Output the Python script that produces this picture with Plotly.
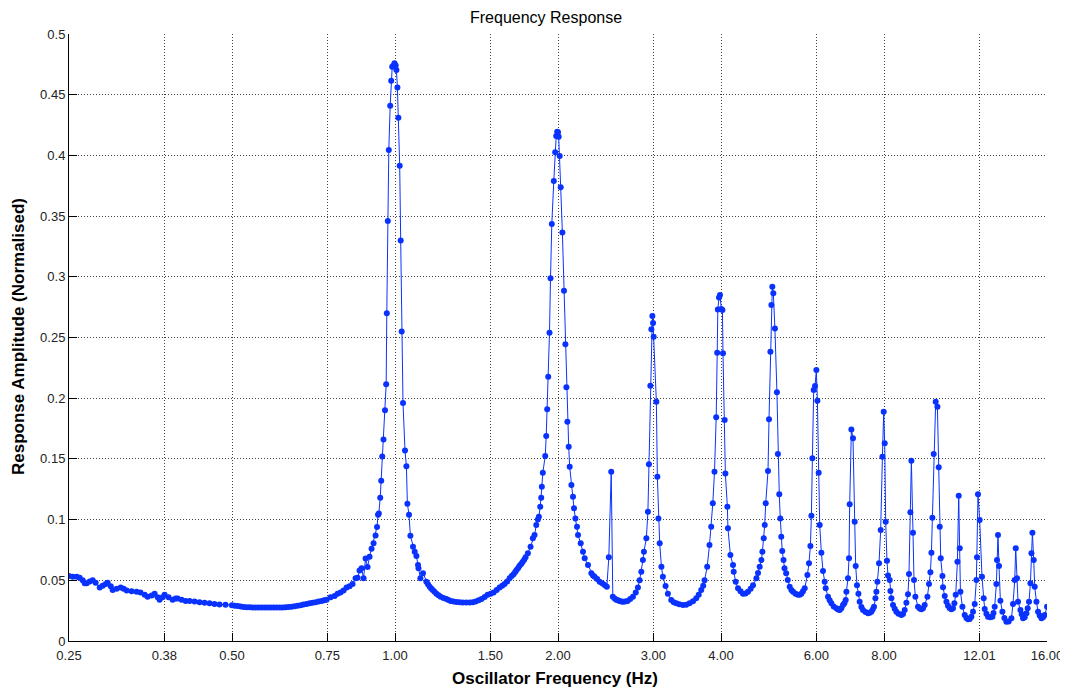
import math
import plotly.graph_objects as go

# Oscillator frequency (Hz) / normalised response amplitude,
# kept in frequency bands.
band1_hz = [
    0.250, 0.254, 0.2583, 0.2616, 0.265, 0.2673, 0.2696, 0.273, 0.2765, 0.280,
    0.2849, 0.2885, 0.2922, 0.2947, 0.2986, 0.301, 0.3062, 0.3115, 0.3154, 0.3195,
    0.3263, 0.3333, 0.3388, 0.3449, 0.3493, 0.3553, 0.3598, 0.3644, 0.3675, 0.3723,
    0.3754, 0.3818, 0.3884, 0.3934, 0.3967, 0.4035, 0.4105, 0.4175, 0.4264, 0.4356,
    0.4449, 0.4545, 0.4642, 0.4742, 0.4864, 0.4997, 0.5058, 0.5123, 0.5189, 0.5255,
    0.5323, 0.5391, 0.5460, 0.5530, 0.5600, 0.5673, 0.5746, 0.5819, 0.5894, 0.5971,
    0.6046, 0.6124, 0.6202, 0.6282, 0.6362, 0.6444, 0.6526, 0.6610, 0.6696, 0.6776,
    0.6868, 0.6956, 0.7045, 0.7135, 0.7226, 0.7319, 0.7400, 0.7476,
]
band1_amp = [
    0.0535, 0.053, 0.053, 0.052, 0.050, 0.0475, 0.0475, 0.049, 0.050, 0.048,
    0.044, 0.0455, 0.047, 0.048, 0.045, 0.042, 0.043, 0.044, 0.043, 0.0415,
    0.041, 0.0405, 0.040, 0.038, 0.0365, 0.0375, 0.039, 0.036, 0.034, 0.036,
    0.038, 0.036, 0.034, 0.035, 0.035, 0.034, 0.033, 0.033, 0.0325, 0.032,
    0.0315, 0.031, 0.0305, 0.030, 0.0298, 0.0294, 0.0291, 0.0288, 0.0284, 0.028,
    0.0279, 0.0278, 0.0276, 0.0275, 0.0275, 0.0275, 0.0275, 0.0275, 0.0275, 0.0275,
    0.0275, 0.0275, 0.0276, 0.0278, 0.028, 0.0283, 0.0286, 0.029, 0.0295, 0.030,
    0.0305, 0.031, 0.0315, 0.032, 0.0325, 0.033, 0.0335, 0.034,
]

band2_hz = [
    0.7605, 0.7735, 0.7834, 0.7934, 0.8036, 0.8139, 0.8243, 0.8349, 0.8456, 0.8528,
    0.8601, 0.8674, 0.8748, 0.8823, 0.8899, 0.8975, 0.9051, 0.9129, 0.9206, 0.9264,
    0.9304, 0.9335, 0.9391, 0.9431, 0.9471, 0.9523, 0.9583, 0.9632, 0.9657, 0.9699,
    0.9740, 0.9798, 0.9840, 0.9882, 0.9936, 0.9979, 1.0030, 1.0060, 1.0103, 1.0145,
    1.0202, 1.0245, 1.0289, 1.0346, 1.0434, 1.0497, 1.0541, 1.0614, 1.0677, 1.0796,
    1.0874, 1.0953, 1.1028, 1.1051,
]
band2_amp = [
    0.036, 0.037, 0.039, 0.040, 0.0415, 0.044, 0.045, 0.047, 0.0516, 0.052,
    0.058, 0.060, 0.0516, 0.068, 0.061, 0.0695, 0.076, 0.0805, 0.087, 0.094,
    0.104, 0.105, 0.118, 0.132, 0.152, 0.166, 0.190, 0.2115, 0.270, 0.346,
    0.4045, 0.441, 0.4615, 0.473, 0.474, 0.476, 0.474, 0.4704, 0.456, 0.431,
    0.3915, 0.330, 0.255, 0.196, 0.157, 0.144, 0.113, 0.104, 0.0867, 0.0777,
    0.0736, 0.070, 0.0626, 0.060,
]

band3_hz = [
    1.1140, 1.1264, 1.1427, 1.1507, 1.1589, 1.1664, 1.1738, 1.1830, 1.1926, 1.2031,
    1.2144, 1.2292, 1.2441, 1.2555, 1.2671, 1.2824, 1.2983, 1.3156, 1.3333, 1.3535,
    1.3736, 1.3918, 1.4090, 1.4275, 1.4451, 1.4644, 1.4827, 1.5023, 1.5210, 1.5410,
    1.5601, 1.5775, 1.5936, 1.6114, 1.6278, 1.6426, 1.6556, 1.6672, 1.6769, 1.6886,
    1.6984, 1.7103, 1.7202, 1.7322, 1.7422,
]
band3_amp = [
    0.0516, 0.0558, 0.0489, 0.0468, 0.0447, 0.0433, 0.042, 0.0405, 0.039, 0.0377,
    0.0365, 0.0355, 0.0346, 0.0338, 0.033, 0.0326, 0.0322, 0.032, 0.0318, 0.0317,
    0.0318, 0.032, 0.0325, 0.0335, 0.0345, 0.0362, 0.038, 0.039, 0.040, 0.042,
    0.044, 0.0455, 0.047, 0.049, 0.0516, 0.0535, 0.055, 0.0568, 0.0585, 0.0602,
    0.062, 0.0635, 0.065, 0.067, 0.069,
]

band4_hz = [
    1.7593, 1.7797, 1.7973, 1.8102, 1.8234, 1.8358, 1.8437, 1.8544, 1.8623, 1.8671,
    1.8750, 1.8942, 1.9023, 1.9103, 1.9185, 1.9290, 1.9373, 1.9480, 1.9645, 1.9764,
    1.9848, 1.9931, 2.000, 2.006, 2.0145, 2.0231, 2.0377, 2.0516, 2.0639, 2.0727,
    2.0816, 2.0931, 2.1020, 2.1173, 2.1318, 2.1408, 2.1536, 2.1683, 2.1776, 2.2027,
    2.2242, 2.2403, 2.2720, 2.3049, 2.3208, 2.3373, 2.3628, 2.3873, 2.4132, 2.4381,
    2.4617, 2.4826, 2.5079, 2.5250, 2.5450, 2.5615, 2.5808, 2.5976, 2.6188, 2.6362,
    2.6614, 2.6890, 2.7186, 2.7506, 2.7836, 2.8096,
]
band4_amp = [
    0.0722, 0.0777, 0.0846, 0.0873, 0.0956, 0.100, 0.1024, 0.1106, 0.118, 0.127,
    0.1386, 0.1524, 0.1689, 0.1909, 0.2177, 0.254, 0.2988, 0.3435, 0.3789, 0.4026,
    0.416, 0.4195, 0.419, 0.4154, 0.3995, 0.3737, 0.3364, 0.2886, 0.2444, 0.209,
    0.1807, 0.160, 0.1436, 0.1285, 0.1189, 0.1093, 0.101, 0.0942, 0.0873, 0.0805,
    0.0736, 0.0681, 0.0626, 0.0558, 0.054, 0.053, 0.051, 0.0489, 0.0475, 0.0461,
    0.0447, 0.069, 0.1395, 0.0365, 0.035, 0.034, 0.0335, 0.033, 0.0326, 0.0324,
    0.0325, 0.033, 0.0345, 0.0365, 0.040, 0.044,
]

band5_hz = [
    2.8300, 2.8504, 2.8698, 2.8822, 2.9120, 2.9314, 2.9440, 2.9618, 2.9746, 2.9874,
    2.996, 3.0040, 3.0388, 3.0518, 3.0651, 3.0820, 3.1046, 3.1242, 3.1600, 3.1912,
    3.2370, 3.2712, 3.3066, 3.3484, 3.4010, 3.4498, 3.4994, 3.5510, 3.6000, 3.6382,
    3.6775, 3.7084, 3.7298, 3.7722, 3.8090, 3.8370, 3.8630, 3.8910, 3.9192, 3.9360,
    3.9460, 3.9660, 3.9830, 4.005, 4.024, 4.034, 4.063, 4.075, 4.110, 4.120,
    4.163, 4.210, 4.222, 4.258, 4.300, 4.346, 4.392, 4.439, 4.487, 4.538,
    4.583, 4.650, 4.682,
]
band5_amp = [
    0.050, 0.057, 0.0667, 0.0736, 0.0846, 0.1065, 0.1455, 0.2103, 0.2568, 0.2677,
    0.262, 0.2507, 0.1971, 0.1353, 0.101, 0.0805, 0.0612, 0.053, 0.0453, 0.039,
    0.0338, 0.032, 0.031, 0.0303, 0.0297, 0.0298, 0.031, 0.0328, 0.0352, 0.038,
    0.042, 0.0455, 0.050, 0.0612, 0.079, 0.0942, 0.1134, 0.1395, 0.1843, 0.2375,
    0.273, 0.283, 0.285, 0.2735, 0.2727, 0.237, 0.182, 0.138, 0.1106, 0.0928,
    0.0708, 0.0626, 0.057, 0.0489, 0.0434, 0.041, 0.039, 0.0392, 0.0406, 0.043,
    0.046, 0.0516, 0.056,
]

band6_hz = [
    4.715, 4.750, 4.770, 4.797, 4.817, 4.838, 4.885, 4.906, 4.935, 4.956,
    4.976, 4.997, 5.031, 5.074, 5.095, 5.125, 5.147, 5.168, 5.190, 5.218,
    5.240, 5.277, 5.313, 5.357, 5.396, 5.433, 5.491, 5.550, 5.590, 5.630,
    5.669, 5.710, 5.776, 5.815, 5.850, 5.875, 5.900, 5.933, 5.966, 6.000,
    6.027, 6.060, 6.086, 6.130, 6.172, 6.217, 6.243, 6.305, 6.350, 6.396,
    6.459, 6.534, 6.579, 6.627, 6.674, 6.720, 6.760, 6.798, 6.818, 6.864,
    6.894, 6.914, 6.964, 7.012, 7.063, 7.093, 7.132, 7.175, 7.214, 7.267,
    7.316, 7.395, 7.474, 7.528, 7.582, 7.625, 7.667, 7.713, 7.745, 7.778,
]
band6_amp = [
    0.0612, 0.0667, 0.0736, 0.0846, 0.0956, 0.1134, 0.140, 0.1826, 0.2383, 0.2768,
    0.2918, 0.2864, 0.2575, 0.2049, 0.154, 0.1208, 0.101, 0.0859, 0.0741, 0.0667,
    0.060, 0.0558, 0.0502, 0.0447, 0.042, 0.0406, 0.039, 0.038, 0.038, 0.039,
    0.041, 0.0434, 0.0544, 0.064, 0.0783, 0.1032, 0.1505, 0.2068, 0.210, 0.2232,
    0.198, 0.1386, 0.0956, 0.0727, 0.0577, 0.0489, 0.0434, 0.0365, 0.0335, 0.031,
    0.0285, 0.0269, 0.026, 0.0255, 0.027, 0.0297, 0.031, 0.0338, 0.0406, 0.0516,
    0.0681, 0.1126, 0.1743, 0.167, 0.0983, 0.0618, 0.046, 0.039, 0.0324, 0.028,
    0.0255, 0.0238, 0.0228, 0.0232, 0.0241, 0.026, 0.0283, 0.0352, 0.0406, 0.0489,
]

band7_hz = [
    7.832, 7.888, 7.946, 7.990, 8.024, 8.058, 8.102, 8.137, 8.196, 8.221,
    8.256, 8.312, 8.372, 8.433, 8.509, 8.614, 8.673, 8.736, 8.799, 8.859,
    8.897, 8.950, 8.988, 9.050, 9.088, 9.142, 9.244, 9.312, 9.379, 9.443,
    9.511, 9.622, 9.687, 9.745, 9.787, 9.828, 9.883, 9.967, 10.040, 10.096,
    10.139, 10.182, 10.256, 10.282, 10.357, 10.432, 10.502, 10.580, 10.655, 10.728,
    10.792, 10.852, 10.931, 10.992, 11.039, 11.072, 11.166, 11.276, 11.358, 11.434,
    11.518, 11.601, 11.680, 11.765,
]
band7_amp = [
    0.064, 0.0914, 0.1518, 0.1889, 0.1628, 0.0983, 0.0661, 0.054, 0.0502, 0.0412,
    0.0352, 0.0297, 0.0265, 0.0241, 0.0225, 0.0214, 0.0222, 0.0255, 0.0316, 0.0385,
    0.0552, 0.106, 0.1485, 0.0892, 0.0502, 0.0365, 0.0283, 0.0268, 0.0261, 0.027,
    0.0297, 0.0365, 0.047, 0.0566, 0.0727, 0.1016, 0.154, 0.1971, 0.193, 0.1431,
    0.0942, 0.0681, 0.0535, 0.0442, 0.0371, 0.0324, 0.029, 0.0269, 0.0262, 0.0269,
    0.031, 0.038, 0.0653, 0.1197, 0.0764, 0.0406, 0.0283, 0.0214, 0.019, 0.0179,
    0.0182, 0.020, 0.024, 0.0305,
]

band8_hz = [
    11.850, 11.880, 11.931, 12.017, 12.136, 12.224, 12.276, 12.365, 12.450, 12.567,
    12.684, 12.744, 12.809, 12.902, 12.935, 12.990, 13.046, 13.123, 13.236, 13.349,
    13.463, 13.595, 13.753, 13.847, 13.948, 14.007, 14.085, 14.145, 14.290, 14.368,
    14.450, 14.553, 14.660, 14.739, 14.823, 14.911, 14.975, 15.038, 15.122, 15.186,
    15.297, 15.402, 15.511, 15.626, 15.730, 15.849, 16.000,
]
band8_amp = [
    0.0502, 0.069, 0.1208, 0.0997, 0.053, 0.0352, 0.0264, 0.0225, 0.020, 0.0195,
    0.020, 0.023, 0.0283, 0.047, 0.0667, 0.0873, 0.0618, 0.0332, 0.0241, 0.019,
    0.0159, 0.016, 0.0187, 0.0305, 0.0502, 0.0764, 0.0516, 0.0324, 0.0255, 0.022,
    0.0187, 0.0195, 0.0228, 0.027, 0.0324, 0.0475, 0.0722, 0.0892, 0.0667, 0.0447,
    0.0324, 0.0241, 0.021, 0.0187, 0.0195, 0.0214, 0.0283,
]

bands_hz = [band1_hz, band2_hz, band3_hz, band4_hz, band5_hz, band6_hz, band7_hz, band8_hz]
bands_amp = [band1_amp, band2_amp, band3_amp, band4_amp, band5_amp, band6_amp, band7_amp, band8_amp]
for fx, ay in zip(bands_hz, bands_amp):
    assert len(fx) == len(ay), (len(fx), len(ay))
freq_hz = [v for band in bands_hz for v in band]
amplitude = [v for band in bands_amp for v in band]

x_tick_vals = [0.25, 0.375, 0.5, 0.75, 1.0, 1.5, 2.0, 3.0, 4.0, 6.0, 8.0, 12.01, 16.0]
x_tick_text = ["0.25", "0.38", "0.50", "0.75", "1.00", "1.50", "2.00", "3.00",
               "4.00", "6.00", "8.00", "12.01", "16.00"]
y_tick_vals = [0, 0.05, 0.1, 0.15, 0.2, 0.25, 0.3, 0.35, 0.4, 0.45, 0.5]
y_tick_text = ["0", "0.05", "0.1", "0.15", "0.2", "0.25", "0.3", "0.35", "0.4", "0.45", "0.5"]

chart_title = "Frequency Response"
x_title = "Oscillator Frequency (Hz)"
y_title = "Response Amplitude (Normalised)"

blue = "#0a32ff"
font_family = "Liberation Sans, Arial, sans-serif"

fig = go.Figure()
fig.add_trace(go.Scatter(
    x=freq_hz, y=amplitude, mode="lines+markers",
    line=dict(color=blue, width=1),
    marker=dict(color=blue, size=6),
    showlegend=False,
))

tick_font = dict(family=font_family, size=13, color="#222222")
common_axis = dict(
    tickmode="array", ticks="inside", ticklen=8, tickcolor="black", tickwidth=1,
    showline=True, linecolor="black", linewidth=1,
    showgrid=True, gridcolor="#444444", griddash="1px,2px", gridwidth=1,
    zeroline=False, tickfont=tick_font, automargin=False,
)

# The page body adds an 8 px offset, so the figure is 1060x685 with margins
# chosen to place the plot area where the reference has it.
fig.update_layout(
    width=1060, height=685,
    margin=dict(l=61, r=21, t=26, b=52, autoexpand=False),
    paper_bgcolor="white", plot_bgcolor="white",
    xaxis=dict(type="log", range=[math.log10(0.25), math.log10(16.0)],
               tickvals=x_tick_vals, ticktext=x_tick_text, ticklabelstandoff=2,
               **common_axis),
    yaxis=dict(range=[0, 0.5], tickvals=y_tick_vals, ticktext=y_tick_text, **common_axis),
    annotations=[
        dict(text=chart_title, xref="paper", yref="paper", x=0.488, y=1.0264,
             xanchor="center", yanchor="middle", showarrow=False,
             font=dict(family=font_family, size=16, color="black")),
        dict(text="<b>" + x_title + "</b>", xref="paper", yref="paper", x=0.497, y=-0.061,
             xanchor="center", yanchor="middle", showarrow=False,
             font=dict(family=font_family, size=17, color="black")),
        dict(text="<b>" + y_title + "</b>", xref="paper", yref="paper", x=-0.0521, y=0.5008,
             xanchor="center", yanchor="middle", showarrow=False, textangle=-90,
             font=dict(family=font_family, size=17, color="black")),
    ],
)

fig.write_html("out.html")
